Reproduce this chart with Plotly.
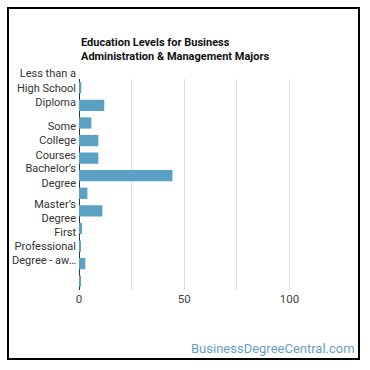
import plotly.graph_objects as go

categories = [
    "Less than a High School Diploma",
    "High School Diploma",
    "Post-Secondary Certificate",
    "Some College Courses",
    "Associate’s Degree",
    "Bachelor’s Degree",
    "Post-Baccalaureate Certificate",
    "Master’s Degree",
    "Post-Master’s Certificate",
    "First Professional Degree - awarded",
    "Doctoral Degree",
    "Post-Doctoral Training",
]
values = [1.1, 12.0, 5.9, 9.2, 9.2, 44.4, 4.0, 11.1, 1.4, 0.5, 3.0, 0.6]

shown_ticks = [categories[0], categories[3], categories[5], categories[7], categories[9]]
shown_text = [
    "Less than a<br>High School<br>Diploma",
    "Some<br>College<br>Courses",
    "Bachelor’s<br>Degree",
    "Master’s<br>Degree",
    "First<br>Professional<br>Degree - aw…",
]

x_ticks = [0, 50, 100]

fig = go.Figure(go.Bar(
    y=categories, x=values, orientation="h",
    marker=dict(color="#5ba1c3", line=dict(width=0)),
    hoverinfo="x+y",
))

L, R, T, B = 79, 30, 79, 80
W = 370 - L - R
H = 370 - T - B

def px_x(p):
    return (p - L) / W

def px_y(p):
    return (370 - B - p) / H

fig.update_layout(
    width=370, height=370,
    margin=dict(l=L, r=R, t=T, b=B, autoexpand=False),
    paper_bgcolor="white", plot_bgcolor="white",
    font=dict(family="Roboto", size=11, color="#333"),
    bargap=0.36,
    showlegend=False,
    xaxis=dict(
        range=[0, 124], tickvals=x_ticks, showgrid=True, gridcolor="#dddddd", gridwidth=1,
        minor=dict(dtick=25, tick0=0, showgrid=True, gridcolor="#dddddd"),
        zeroline=True, zerolinecolor="#333", zerolinewidth=1,
        showline=False, ticks="", tickfont=dict(size=11.5, color="#444"),
        automargin=False, fixedrange=True,
    ),
    yaxis=dict(
        type="category", categoryorder="array", categoryarray=categories,
        autorange="reversed", tickmode="array", tickvals=shown_ticks, ticktext=shown_text,
        ticks="", showgrid=False, showline=False, zeroline=False,
        tickfont=dict(size=11, color="#333"), ticklabelstandoff=2,
        automargin=False, fixedrange=True,
    ),
    annotations=[
        dict(text="<b>Education Levels for Business<br>Administration &amp; Management Majors</b>",
             xref="paper", yref="paper", x=0, y=px_y(34), xanchor="left", yanchor="top",
             align="left", showarrow=False, font=dict(size=11, color="#111", family="Roboto")),
        dict(text="BusinessDegreeCentral.com", xref="paper", yref="paper",
             x=px_x(357), y=px_y(348), xanchor="right", yanchor="middle",
             showarrow=False, font=dict(size=13, color="#6a9fc4", family="Roboto")),
    ],
    shapes=[
        dict(type="rect", xref="paper", yref="paper",
             x0=px_x(8), x1=px_x(359), y0=px_y(359), y1=px_y(8),
             line=dict(color="black", width=2), fillcolor="rgba(0,0,0,0)", layer="above"),
    ],
)

fig.write_html("out.html")
